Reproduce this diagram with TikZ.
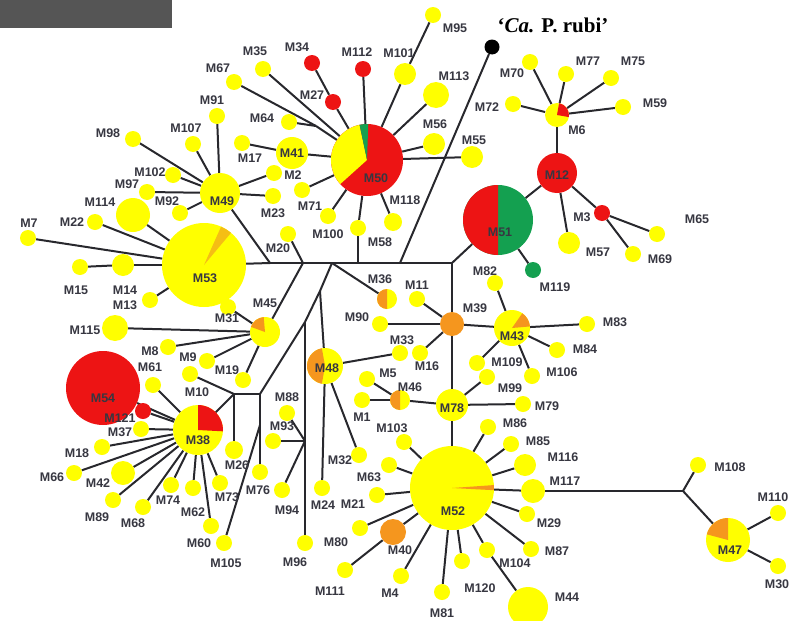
\documentclass[tikz,border=0pt]{standalone}
\usepackage{fontspec}
\setmainfont{Liberation Sans}
\newfontfamily\titlefont{Liberation Serif}
\usetikzlibrary{backgrounds}
\definecolor{hapyellow}{RGB}{255,255,0}
\definecolor{hapred}{RGB}{237,20,20}
\definecolor{hapgreen}{RGB}{20,160,80}
\definecolor{haporange}{RGB}{245,150,30}
\definecolor{hapamber}{RGB}{245,190,20}
\definecolor{linegray}{RGB}{40,40,45}
\definecolor{labgray}{RGB}{55,55,65}
\definecolor{boxgray}{RGB}{85,85,85}

\tikzset{
  hap/.style={circle, inner sep=0pt, minimum size=16pt, fill=hapyellow},
  lab/.style={font=\fontsize{12.5}{12.5}\selectfont\bfseries, text=labgray, inner sep=0pt},
  link/.style={draw=linegray, line width=2pt},
}
% filled pie slice of a haplotype circle
\newcommand{\hapwedge}[5]{\fill[#2] (#1.center) -- ++(#3:#5) arc[start angle=#3, end angle=#4, radius=#5] -- cycle;}

\begin{document}
\begin{tikzpicture}[x=1pt, y=-1pt]
    \useasboundingbox (0,0) rectangle (795,621);
    \fill[boxgray] (0,0) rectangle (172,28);

    % Title and outgroup
    \node[font=\titlefont\fontsize{21}{21}\selectfont\bfseries] (title) at (553,25) {‘\textit{Ca.} P. rubi’};
    \node[hap, fill=black, minimum size=15pt] (Ca) at (492,47) {};

    % Haplotypes with one colour
    \foreach \h/\x/\y/\d/\c/\lx/\ly in {
        54/103/388/74/hapred/103/398, 12/557/173/40/hapred/557/175,
        49/220/193/40/hapyellow/222/201, 41/292/153/32/hapyellow/292/153,
        78/452/405/32/hapyellow/452/408, 39/452/324/24/haporange/475/308,
        40/393/532/26/haporange/400/550, 44/528/607/40/hapyellow/567/597,
        114/133/215/34/hapyellow/100/202, 115/115/328/26/hapyellow/85/330,
        14/123/265/22/hapyellow/125/290, 42/123/473/24/hapyellow/98/483,
        101/405/74/22/hapyellow/399/53, 113/436/95/26/hapyellow/454/76,
        56/434/144/22/hapyellow/435/124, 55/472/157/22/hapyellow/474/140,
        118/393/222/18/hapyellow/405/200, 57/569/243/22/hapyellow/598/252,
        117/533/491/24/hapyellow/565/481, 116/525/465/22/hapyellow/563/457,
        26/234/450/18/hapyellow/237/465,
        95/433/15/16/hapyellow/455/28, 35/263/69/16/hapyellow/255/51,
        34/312/63/16/hapred/297/47, 27/333/102/16/hapred/312/95,
        112/363/69/16/hapred/357/52, 67/234/82/16/hapyellow/218/68,
        91/217/116/16/hapyellow/212/100, 98/133/139/16/hapyellow/108/133,
        107/193/144/16/hapyellow/186/128, 64/289/122/16/hapyellow/262/118,
        17/242/143/16/hapyellow/250/158, 2/274/173/16/hapyellow/293/175,
        102/173/175/16/hapyellow/150/172, 97/147/192/16/hapyellow/127/184,
        92/180/213/16/hapyellow/167/201, 23/273/196/16/hapyellow/273/213,
        71/302/190/16/hapyellow/310/206, 100/328/216/16/hapyellow/328/234,
        58/358/228/16/hapyellow/380/242, 20/288/234/16/hapyellow/278/248,
        22/95/222/16/hapyellow/72/222, 7/28/238/16/hapyellow/29/223,
        15/80/267/16/hapyellow/76/290, 13/150/300/16/hapyellow/125/305,
        31/228/307/16/hapyellow/227/318, 8/168/347/16/hapyellow/150/351,
        9/207/361/16/hapyellow/188/357, 19/243/380/16/hapyellow/227/370,
        61/153/385/16/hapyellow/150/367, 10/190/374/16/hapyellow/197/392,
        121/143/411/16/hapred/120/418, 37/141/429/16/hapyellow/120/432,
        18/102/447/16/hapyellow/77/453, 66/74/473/16/hapyellow/52/477,
        89/113/500/16/hapyellow/97/517, 68/143/507/16/hapyellow/133/523,
        74/171/485/16/hapyellow/168/500, 62/193/488/16/hapyellow/193/512,
        73/220/483/16/hapyellow/227/497, 60/211/526/16/hapyellow/199/543,
        105/224/543/16/hapyellow/226/563, 76/260/472/16/hapyellow/258/490,
        88/287/413/16/hapyellow/287/397, 93/273/441/16/hapyellow/282/426,
        94/282/490/16/hapyellow/287/510, 96/305/543/16/hapyellow/295/562,
        24/322/488/16/hapyellow/323/505, 32/359/455/16/hapyellow/340/460,
        33/400/353/16/hapyellow/402/340, 11/417/299/16/hapyellow/417/285,
        90/380/324/16/hapyellow/357/317, 16/420/353/16/hapyellow/427/366,
        82/495/283/16/hapyellow/485/271, 83/587/324/16/hapyellow/615/322,
        84/557/350/16/hapyellow/585/349, 106/532/376/16/hapyellow/562/372,
        109/477/363/16/hapyellow/507/362, 99/487/377/16/hapyellow/510/388,
        5/367/379/16/hapyellow/388/373, 1/362/400/16/hapyellow/362/417,
        79/523/404/16/hapyellow/547/406, 103/404/442/16/hapyellow/392/428,
        63/389/465/16/hapyellow/369/477, 21/377/495/16/hapyellow/353/504,
        80/360/528/16/hapyellow/336/542, 111/345/570/16/hapyellow/330/591,
        4/401/576/16/hapyellow/390/593, 81/442/592/16/hapyellow/442/613,
        120/462/561/16/hapyellow/480/588, 104/487/550/16/hapyellow/515/563,
        87/531/549/16/hapyellow/557/551, 29/527/514/16/hapyellow/549/523,
        85/511/444/16/hapyellow/538/441, 86/488/427/16/hapyellow/515/423,
        108/698/465/16/hapyellow/730/467, 110/778/513/16/hapyellow/773/497,
        30/778/566/16/hapyellow/777/584, 70/530/62/16/hapyellow/512/73,
        77/566/74/16/hapyellow/588/61, 75/611/78/16/hapyellow/633/61,
        59/623/107/16/hapyellow/655/103, 72/513/104/16/hapyellow/487/107,
        3/602/213/16/hapred/582/217, 65/657/234/16/hapyellow/697/219,
        69/633/254/16/hapyellow/660/259, 119/533/270/16/hapgreen/555/287} {
        \node[hap, minimum size=\d pt, fill=\c] (M\h) at (\x,\y) {};
        \node[lab] (L\h) at (\lx,\ly) {M\h};
    }

    % Haplotypes shared by several hosts
    \node[hap, minimum size=72pt, fill=hapred] (M50) at (367,160) {};
    \hapwedge{M50}{hapyellow}{102}{222}{36pt}
    \hapwedge{M50}{hapgreen}{88}{102}{36pt}
    \node[lab] (L50) at (376,178) {M50};

    \node[hap, minimum size=84pt] (M53) at (204,265) {};
    \hapwedge{M53}{hapamber}{50}{66}{42pt}
    \node[lab] (L53) at (205,278) {M53};

    \node[hap, minimum size=84pt] (M52) at (452,488) {};
    \hapwedge{M52}{haporange}{-3}{4}{42pt}
    \node[lab] (L52) at (453,511) {M52};

    \node[hap, minimum size=70pt, fill=hapgreen] (M51) at (498,220) {};
    \hapwedge{M51}{hapred}{90}{270}{35pt}
    \node[lab] (L51) at (500,232) {M51};

    \node[hap, minimum size=50pt] (M38) at (198,430) {};
    \hapwedge{M38}{hapred}{-3}{90}{25pt}
    \node[lab] (L38) at (198,440) {M38};

    \node[hap, minimum size=36pt] (M43) at (512,328) {};
    \hapwedge{M43}{haporange}{5}{55}{18pt}
    \node[lab] (L43) at (512,336) {M43};

    \node[hap, minimum size=30pt] (M45) at (265,332) {};
    \hapwedge{M45}{haporange}{95}{160}{15pt}
    \node[lab] (L45) at (265,303) {M45};

    \node[hap, minimum size=44pt] (M47) at (728,540) {};
    \hapwedge{M47}{haporange}{90}{165}{22pt}
    \node[lab] (L47) at (730,550) {M47};

    \node[hap, minimum size=24pt] (M6) at (557,115) {};
    \hapwedge{M6}{hapred}{-10}{80}{12pt}
    \node[lab] (L6) at (577,130) {M6};

    \node[hap, minimum size=20pt] (M36) at (387,299) {};
    \hapwedge{M36}{haporange}{90}{270}{10pt}
    \node[lab] (L36) at (380,279) {M36};

    \node[hap, minimum size=20pt] (M46) at (400,400) {};
    \hapwedge{M46}{haporange}{90}{270}{10pt}
    \node[lab] (L46) at (410,387) {M46};

    \node[hap, minimum size=36pt] (M48) at (325,366) {};
    \hapwedge{M48}{haporange}{100}{260}{18pt}
    \node[lab] (L48) at (327,368) {M48};

    % Median vectors
    \coordinate (jA) at (270,263);
    \coordinate (jB) at (303,263);
    \coordinate (jC) at (332,263);
    \coordinate (jD) at (358,263);
    \coordinate (jE) at (400,263);
    \coordinate (jF) at (452,263);
    \coordinate (jN) at (320,291);
    \coordinate (jG) at (305,322);
    \coordinate (jH) at (260,394);
    \coordinate (jI) at (234,394);
    \coordinate (jJ) at (260,425);
    \coordinate (jK) at (305,441);
    \coordinate (jL) at (316,126);
    \coordinate (jM) at (683,491);

    % Mutational links
    \begin{scope}[on background layer]
    \foreach \a/\b in {M35/M50, M67/jL, jL/M50, M64/jL, M34/M27, M27/M50,
        M112/M50, M101/M50, M95/M101, M113/M50, M56/M50, M55/M50, M118/M50,
        M58/M50, M100/M50, M71/M50, M41/M50, M17/M41,
        M98/M49, M107/M49, M91/M49, M102/M49, M97/M49, M92/M49, M2/M49,
        M23/M49, M49/jA,
        M53/jA, jA/jB, jB/jC, jC/jD, jD/jE, jE/jF, M58/jD, Ca/jE, M20/jB,
        M45/jB, jC/M36, jC/jN, jN/jG, jN/M48, M48/M24, M48/M32, M48/M33,
        M22/M53, M7/M53, M114/M53, M15/M14, M14/M53, M13/M53,
        M31/M45, M115/M45, M8/M45, M9/M45, M19/M45,
        jG/jH, jG/jK, jK/M96, M88/jK, M93/jK, M94/jK,
        jH/jI, jH/jJ, jJ/M76, M105/jJ, jI/M10, jI/M38, jI/M26,
        M54/M38, M121/M38, M37/M38, M18/M38, M66/M38, M42/M38, M89/M38,
        M68/M38, M74/M38, M62/M38, M73/M38, M60/M38, M61/M38,
        jF/M51, jF/M39, M11/M39, M90/M39, M16/M39, M39/M43, M39/M78,
        M82/M43, M83/M43, M84/M43, M106/M43, M109/M43,
        M99/M78, M46/M78, M79/M78, M5/M46, M1/M46, M78/M52,
        M103/M52, M63/M52, M21/M52, M80/M52, M40/M52, M111/M40, M4/M52,
        M81/M52, M120/M52, M104/M52, M104/M44, M87/M52, M29/M52, M117/M52,
        M116/M52, M85/M52, M86/M52,
        M117/jM, jM/M108, jM/M47, M47/M110, M47/M30,
        M70/M6, M77/M6, M75/M6, M59/M6, M72/M6, M6/M12, M12/M51, M12/M57,
        M12/M3, M3/M65, M3/M69, M51/M119}
        \draw[link] (\a) -- (\b);
    \end{scope}
\end{tikzpicture}
\end{document}
